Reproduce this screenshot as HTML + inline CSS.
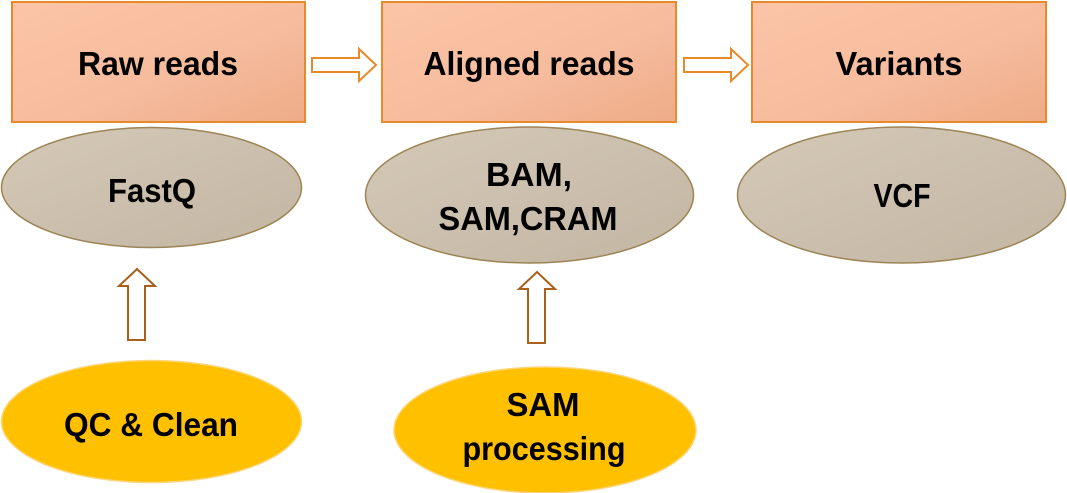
<!DOCTYPE html>
<html><head><style>
html,body{margin:0;padding:0;background:#fff;width:1067px;height:493px;overflow:hidden}
svg text{font-family:"Liberation Sans",sans-serif;font-weight:bold;fill:#000;text-anchor:middle;font-size:33px}
</style></head><body>
<svg width="1067" height="493" viewBox="0 0 1067 493">
<defs>
<linearGradient id="pk" x1="0" y1="0" x2="1" y2="1">
<stop offset="0" stop-color="#fcc5a7"/><stop offset="0.6" stop-color="#f5bb9c"/><stop offset="1" stop-color="#eeab88"/>
</linearGradient>
<linearGradient id="gr" x1="0" y1="0" x2="1" y2="1">
<stop offset="0" stop-color="#d4c8b7"/><stop offset="1" stop-color="#c3b6a3"/>
</linearGradient>
</defs>
<rect x="12" y="2" width="293" height="120" fill="url(#pk)" stroke="#e8892c" stroke-width="2"/>
<rect x="382" y="2" width="294" height="120" fill="url(#pk)" stroke="#e8892c" stroke-width="2"/>
<rect x="752" y="2" width="294" height="120" fill="url(#pk)" stroke="#e8892c" stroke-width="2"/>
<text x="158" y="75" textLength="160" lengthAdjust="spacingAndGlyphs">Raw reads</text>
<text x="529" y="75" textLength="211" lengthAdjust="spacingAndGlyphs">Aligned reads</text>
<text x="899" y="75" textLength="127" lengthAdjust="spacingAndGlyphs">Variants</text>
<polygon points="312,58 359,58 359,49 376,65 359,81 359,72 312,72" fill="#fff" stroke="#e8892c" stroke-width="2"/>
<polygon points="684,58 731,58 731,49 748,65 731,81 731,72 684,72" fill="#fff" stroke="#e8892c" stroke-width="2"/>
<ellipse cx="151.5" cy="187.5" rx="150" ry="60" fill="url(#gr)" stroke="#9c8455" stroke-width="1.5"/>
<ellipse cx="529.5" cy="195" rx="164" ry="68" fill="url(#gr)" stroke="#9c8455" stroke-width="1.5"/>
<ellipse cx="901.5" cy="195" rx="164" ry="68" fill="url(#gr)" stroke="#9c8455" stroke-width="1.5"/>
<text x="152" y="202" textLength="88" lengthAdjust="spacingAndGlyphs">FastQ</text>
<text x="529" y="186" textLength="86" lengthAdjust="spacingAndGlyphs">BAM,</text>
<text x="528" y="230" textLength="179" lengthAdjust="spacingAndGlyphs">SAM,CRAM</text>
<text x="902" y="207" textLength="57" lengthAdjust="spacingAndGlyphs">VCF</text>
<polygon points="128,340 145,340 145,286 155,286 137,269 119,286 128,286" fill="#fff" stroke="#a8601a" stroke-width="2"/>
<polygon points="528,343 545,343 545,289 555,289 537,272 519,289 528,289" fill="#fff" stroke="#a8601a" stroke-width="2"/>
<ellipse cx="151.5" cy="421.5" rx="150" ry="61" fill="#ffc000" stroke="#fbd67a" stroke-width="1.5"/>
<ellipse cx="545" cy="430" rx="151" ry="63" fill="#ffc000" stroke="#fbd67a" stroke-width="1.5"/>
<text x="151" y="436" textLength="174" lengthAdjust="spacingAndGlyphs">QC &amp; Clean</text>
<text x="543" y="416" textLength="73" lengthAdjust="spacingAndGlyphs">SAM</text>
<text x="544" y="460" textLength="163" lengthAdjust="spacingAndGlyphs">processing</text>
</svg>
</body></html>
